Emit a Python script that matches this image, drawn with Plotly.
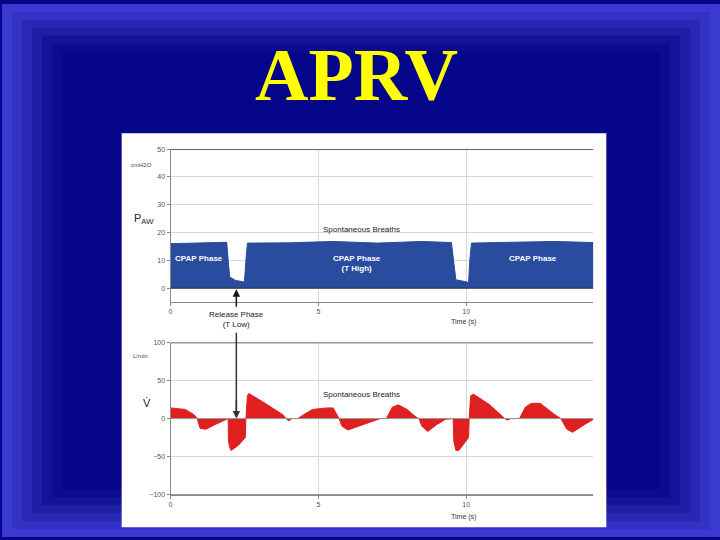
import plotly.graph_objects as go

p_t = [0, 1.9, 1.95, 2.0, 2.2, 2.5, 2.55, 2.6, 4.0, 5.5, 7.0, 8.5, 9.5, 9.57, 9.65, 10.0, 10.08, 10.12, 10.18, 11.5, 13.0, 14.3]
p_v = [16, 16.5, 10, 4, 2.8, 2.2, 10, 16.2, 16.3, 16.8, 16.2, 16.8, 16.4, 10, 3, 2.3, 2.0, 10, 16.2, 16.5, 16.8, 16.4]

f_t = [0, 0.5, 0.8, 0.9, 1.0, 1.2, 1.5, 1.8, 1.9, 1.95, 1.96, 2.0, 2.05, 2.3, 2.53, 2.55, 2.6, 2.65, 3.2, 3.8, 3.9, 4.0, 4.1, 4.3, 4.5, 4.8, 5.3, 5.5, 5.7, 5.8, 6.0, 6.5, 7.0, 7.1, 7.3, 7.5, 7.7, 8.0, 8.3, 8.4, 8.5, 8.7, 9.0, 9.3, 9.56, 9.58, 9.65, 9.75, 10.08, 10.1, 10.15, 10.25, 10.8, 11.2, 11.3, 11.4, 11.5, 11.8, 12.0, 12.2, 12.5, 13.0, 13.2, 13.4, 13.6, 14.0, 14.3]
f_v = [14, 12, 5, 0, -13, -14, -8, -2, 0, 0, -30, -38, -42, -35, -25, 0, 30, 33, 20, 5, 0, -3, 0, 0, 5, 12, 14, 14, 0, -10, -15, -8, -2, 0, 0, 15, 18, 12, 2, 0, -10, -17, -8, -1, 0, -30, -42, -42, -25, 0, 30, 32, 18, 3, 0, -2, 0, 0, 15, 20, 20, 5, 0, -14, -18, -8, -1]

W, H = 720, 540
def px(x): return x / W
def py(y): return 1 - y / H

fig = go.Figure()
fig.add_trace(go.Scatter(x=p_t, y=p_v, fill="tozeroy", mode="lines",
                         line=dict(color="#2a4c9e", width=1), fillcolor="#2a4c9e",
                         xaxis="x", yaxis="y", hoverinfo="skip"))
fig.add_trace(go.Scatter(x=f_t, y=f_v, fill="tozeroy", mode="lines",
                         line=dict(color="#e02020", width=1), fillcolor="#e02020",
                         xaxis="x2", yaxis="y2", hoverinfo="skip"))

shapes = []
cols = ["#3a3ad0", "#3232c4", "#2828b4", "#1e1ea6", "#141498", "#0c0c8e", "#06068a"]
for i, c in enumerate(cols):
    shapes.append(dict(type="rect", xref="paper", yref="paper", layer="below",
                       x0=px(i * 10), x1=px(W - i * 10), y0=py(H - i * 8), y1=py(i * 8),
                       fillcolor=c, line=dict(width=0)))
shapes.append(dict(type="rect", xref="paper", yref="paper", layer="below",
                   x0=px(120), x1=px(606), y0=py(530), y1=py(131),
                   fillcolor="white", line=dict(width=0)))
shapes.append(dict(type="line", xref="paper", yref="paper",
                   x0=px(235), x1=px(235), y0=py(333), y1=py(412),
                   line=dict(color="#333", width=1.5)))

tick = dict(size=7, color="#555", family="Arial")
ax = dict(showgrid=True, gridcolor="#d8d8d8", zeroline=False, tickfont=tick,
          showline=True, linecolor="#888", ticks="outside", ticklen=3, tickcolor="#888")
fig.update_layout(
    width=W, height=H, margin=dict(l=0, r=0, t=0, b=0), showlegend=False,
    paper_bgcolor="#06068a", plot_bgcolor="white", shapes=shapes,
    xaxis=dict(ax, domain=[px(169), px(593)], range=[0, 14.3], tickvals=[0, 5, 10], anchor="y"),
    yaxis=dict(ax, domain=[py(302), py(147)], range=[-5, 50], tickvals=[0, 10, 20, 30, 40, 50], anchor="x"),
    xaxis2=dict(ax, domain=[px(169), px(593)], range=[0, 14.3], tickvals=[0, 5, 10], anchor="y2"),
    yaxis2=dict(ax, domain=[py(497), py(343)], range=[-100, 100], tickvals=[-100, -50, 0, 50, 100], anchor="x2"),
)

def txt(x, y, s, size=8, color="#222", **kw):
    fig.add_annotation(xref="paper", yref="paper", x=px(x), y=py(y), text=s, showarrow=False,
                       xanchor="center", yanchor="middle",
                       font=dict(size=size, color=color, family="Arial"), **kw)

fig.add_annotation(xref="paper", yref="paper", x=px(355), y=py(72), text="<b>APRV</b>", showarrow=False,
                   xanchor="center", yanchor="middle",
                   font=dict(size=74, color="#ffff00", family="Liberation Serif"))
for yy, xr, yr in [(50, "x", "y"), (100, "x2", "y2"), (-100, "x2", "y2")]:
    fig.add_shape(type="line", xref=xr, yref=yr, x0=0, x1=14.3, y0=yy, y1=yy,
                  line=dict(color="#333", width=1.2))
fig.add_shape(type="line", xref="x", yref="y", x0=0, x1=14.3, y0=0, y1=0, line=dict(color="#333", width=1))
fig.add_shape(type="line", xref="x2", yref="y2", x0=0, x1=14.3, y0=0, y1=0, line=dict(color="#999", width=1))

txt(140, 163, "cmH2O", 6, "#444")
txt(142, 218, "P<sub>AW</sub>", 11, "#222")
txt(139, 357, "L/min", 6, "#444")
txt(145, 404, "V̇", 11, "#222")
txt(360, 228, "Spontaneous Breaths", 8)
txt(360, 396, "Spontaneous Breaths", 8)
txt(198, 258, "<b>CPAP Phase</b>", 8, "white")
txt(356, 263, "<b>CPAP Phase<br>(T High)</b>", 8, "white")
txt(532, 258, "<b>CPAP Phase</b>", 8, "white")
txt(463, 322, "Time (s)", 7, "#333")
txt(463, 520, "Time (s)", 7, "#333")
fig.add_annotation(xref="paper", yref="paper", x=px(235), y=py(289), ax=0, ay=19,
                   showarrow=True, arrowhead=2, arrowsize=1,
                   arrowwidth=1.5, arrowcolor="#111", text="")
txt(235, 320, "Release Phase<br>(T Low)", 8)
fig.add_annotation(xref="paper", yref="paper", x=px(235), y=py(420), ax=0, ay=-20,
                   showarrow=True, arrowhead=2, arrowsize=1,
                   arrowwidth=1.5, arrowcolor="#333", text="")
fig.write_html("out.html", config={"displayModeBar": False},
               post_script="document.body.style.margin='0';document.body.style.overflow='hidden';")
